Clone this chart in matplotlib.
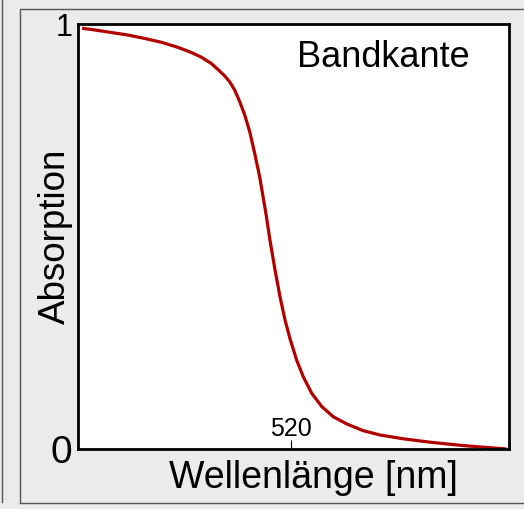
import matplotlib
matplotlib.use('Agg')
import matplotlib.pyplot as plt
from matplotlib.lines import Line2D

plt.rcParams['font.family'] = ['Liberation Sans', 'DejaVu Sans']

# absorption edge
wavelength = [402.3, 409.4, 418.8, 428.2, 437.6, 447.0, 456.4, 463.9, 469.5, 475.2,
              478.9, 482.7, 485.5, 488.3, 491.2, 494.0, 496.8, 499.6, 502.4, 505.3,
              506.0, 508.2, 511.1, 513.9, 516.7, 519.5, 523.3, 527.0, 531.8, 537.4,
              543.9, 551.5, 560.9, 570.3, 583.4, 598.5, 617.3, 641.7]
absorption = [0.990, 0.986, 0.980, 0.974, 0.966, 0.957, 0.945, 0.933, 0.922, 0.907,
              0.893, 0.878, 0.864, 0.845, 0.817, 0.786, 0.747, 0.696, 0.641, 0.570,
              0.553, 0.492, 0.421, 0.358, 0.304, 0.260, 0.209, 0.170, 0.131, 0.100,
              0.076, 0.059, 0.043, 0.033, 0.024, 0.016, 0.008, 0.0]
x_ticks = [520]
x_ticklabels = ['520']
y_ticks = [0, 1]
y_ticklabels = ['0', '1']

W, H = 524, 509
fig = plt.figure(figsize=(W / 100, H / 100), dpi=100, facecolor='#ebebeb')

# gray frame lines around the plot
frame = '#555555'
fig.add_artist(Line2D([2 / W, 2 / W], [1, 1 - 502 / H], color=frame, lw=1))
fig.add_artist(Line2D([20 / W, 20 / W, 1.01], [1 - 502 / H, 1 - 9 / H, 1 - 9 / H], color=frame, lw=1))
fig.add_artist(Line2D([20 / W, 1.01], [1 - 502.5 / H, 1 - 502.5 / H], color=frame, lw=1))

ax = fig.add_axes([78 / W, 1 - 449 / H, 431 / W, 425 / H])
ax.set_facecolor('white')
ax.plot(wavelength, absorption, color='#b20000', lw=2.3,
        solid_capstyle='butt', solid_joinstyle='round')
ax.set_xlim(400, 643)
ax.set_ylim(0, 1)

for s in ax.spines.values():
    s.set_linewidth(2.0)

ax.set_xticks(x_ticks)
ax.set_xticklabels(x_ticklabels, fontsize=18)
ax.tick_params(axis='x', direction='in', length=6.5, width=0.8, pad=-23)
ax.set_yticks(y_ticks)
ax.set_yticklabels(y_ticklabels)
ax.tick_params(axis='y', length=0, pad=4)
ylabs = ax.get_yticklabels()
ylabs[0].set_fontsize(28)
ylabs[1].set_fontsize(22)

ax.set_xlabel('Wellenlänge [nm]', fontsize=27, va='baseline')
ax.xaxis.set_label_coords(0.546, -0.092)
ax.set_ylabel('Absorption', fontsize=26.5, va='baseline')
ax.yaxis.set_label_coords(-0.030, 0.5)

ax.text(0.507, 0.899, 'Bandkante', transform=ax.transAxes, fontsize=26,
        ha='left', va='baseline')

fig.savefig('out.png', dpi=100, facecolor=fig.get_facecolor())
